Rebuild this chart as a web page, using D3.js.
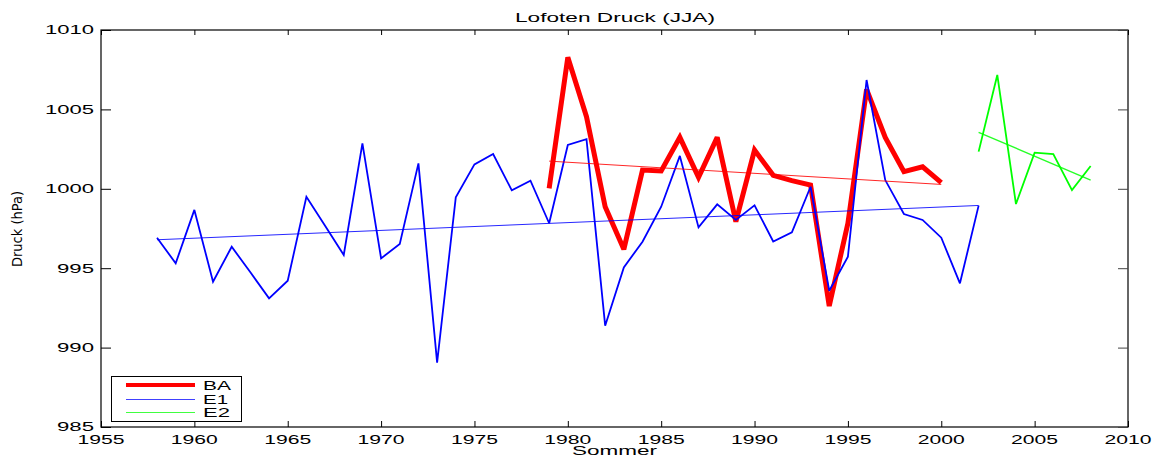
<!DOCTYPE html>
<html>
<head>
<meta charset="utf-8">
<script src="https://cdn.jsdelivr.net/npm/d3@7"></script>
<style>
  html, body { margin: 0; padding: 0; background: #fff; }
  svg { display: block; }
  text { font-family: "Liberation Sans", Arial, Helvetica, sans-serif; fill: #000; }
</style>
</head>
<body>
<svg id="chart" width="1161" height="457"></svg>
<script>
// Summer (JJA) mean sea-level pressure at Lofoten, hPa
const yearsBA = d3.range(1979, 2001);
const valuesBA = [1000.03, 1008.28, 1004.54, 998.87, 996.19, 1001.18, 1001.12, 1003.24, 1000.72, 1003.24,
                  997.93, 1002.44, 1000.85, 1000.51, 1000.24, 992.62, 997.83, 1006.26, 1003.24, 1001.08,
                  1001.39, 1000.39];

const yearsE1 = d3.range(1958, 2003);
const valuesE1 = [996.92, 995.31, 998.67, 994.15, 996.35, 994.74, 993.10, 994.21, 999.50, 997.67,
                  995.83, 1002.86, 995.62, 996.52, 1001.60, 989.05, 999.46, 1001.54, 1002.19, 999.90,
                  1000.51, 997.83, 1002.76, 1003.12, 991.38, 995.05, 996.67, 998.87, 1002.07, 997.57,
                  999.02, 998.04, 998.96, 996.68, 997.26, 1000.13, 993.58, 995.73, 1006.85, 1000.55,
                  998.41, 998.04, 996.92, 994.05, 998.94];

const yearsE2 = d3.range(2002, 2009);
const valuesE2 = [1002.34, 1007.17, 999.04, 1002.28, 1002.19, 999.92, 1001.44];

const xTicks = [1955, 1960, 1965, 1970, 1975, 1980, 1985, 1990, 1995, 2000, 2005, 2010];
const yTicks = [985, 990, 995, 1000, 1005, 1010];

const titleText = "Lofoten Druck (JJA)";
const xLabel = "Sommer";
const yLabel = "Druck (hPa)";
const legendNames = ["BA", "E1", "E2"];

const series = [
  { name: "BA", years: yearsBA, values: valuesBA, color: "#ff0000", width: 5 },
  { name: "E1", years: yearsE1, values: valuesE1, color: "#0000ff", width: 1.8 },
  { name: "E2", years: yearsE2, values: valuesE2, color: "#00ff00", width: 1.8 }
];

const svg = d3.select("#chart");
const plotL = 101, plotR = 1128, plotT = 30, plotB = 427;

const x = d3.scaleLinear().domain([1955, 2010]).range([plotL, plotR]);
const y = d3.scaleLinear().domain([985, 1010]).range([plotB, plotT]);

// stretched text helper (wide tick/label glyphs)
function wideText(sel, str, len) {
  sel.text(str).attr("textLength", len).attr("lengthAdjust", "spacingAndGlyphs");
}

// least-squares linear fit
function linFit(xs, ys) {
  const mx = d3.mean(xs), my = d3.mean(ys);
  let sxy = 0, sxx = 0;
  xs.forEach((v, i) => { sxy += (v - mx) * (ys[i] - my); sxx += (v - mx) * (v - mx); });
  const b = sxy / sxx;
  return t => my + b * (t - mx);
}

const line = d3.line().x(d => x(d[0])).y(d => y(d[1]));

// data lines
const plot = svg.append("g");
series.forEach(s => {
  const pts = s.years.map((yr, i) => [yr, s.values[i]]);
  plot.append("path")
    .attr("d", line(pts))
    .attr("fill", "none")
    .attr("stroke", s.color)
    .attr("stroke-width", s.width)
    .attr("stroke-linejoin", "miter")
    .attr("stroke-miterlimit", 3);
});

// linear trends
series.forEach(s => {
  const f = linFit(s.years, s.values);
  const x0 = s.years[0], x1 = s.years[s.years.length - 1];
  plot.append("path")
    .attr("d", line([[x0, f(x0)], [x1, f(x1)]]))
    .attr("fill", "none")
    .attr("stroke", s.color)
    .attr("stroke-width", s.name === "E2" ? 1.4 : 1)
    .attr("stroke-opacity", 0.85);
});

// axes box
const axes = svg.append("g");
axes.append("rect")
  .attr("x", plotL).attr("y", plotT)
  .attr("width", plotR - plotL).attr("height", plotB - plotT)
  .attr("fill", "none").attr("stroke", "#000").attr("stroke-width", 1.2);

// bottom/top axes (ticks inward)
const xAxisB = d3.axisBottom(x).tickValues(xTicks).tickSize(-6).tickFormat("");
axes.append("g").attr("transform", `translate(0,${plotB})`).call(xAxisB)
  .call(g => g.select(".domain").remove())
  .call(g => g.selectAll(".tick line").attr("stroke", "#000"));
const xAxisT = d3.axisTop(x).tickValues(xTicks).tickSize(-5).tickFormat("");
axes.append("g").attr("transform", `translate(0,${plotT})`).call(xAxisT)
  .call(g => g.select(".domain").remove())
  .call(g => g.selectAll(".tick line").attr("stroke", "#000"));

// left/right axes (ticks inward)
const yAxisL = d3.axisLeft(y).tickValues(yTicks).tickSize(-10).tickFormat("");
axes.append("g").attr("transform", `translate(${plotL},0)`).call(yAxisL)
  .call(g => g.select(".domain").remove())
  .call(g => g.selectAll(".tick line").attr("stroke", "#000"));
const yAxisR = d3.axisRight(y).tickValues(yTicks).tickSize(-10).tickFormat("");
axes.append("g").attr("transform", `translate(${plotR},0)`).call(yAxisR)
  .call(g => g.select(".domain").remove())
  .call(g => g.selectAll(".tick line").attr("stroke", "#444"));

// tick labels
xTicks.forEach(t => {
  svg.append("text")
    .attr("x", x(t) - 23.5).attr("y", 443.5)
    .attr("font-size", 12)
    .call(wideText, String(t), 47);
});
yTicks.forEach(t => {
  const s = String(t);
  const len = s.length === 4 ? 49 : 37;
  svg.append("text")
    .attr("x", 94 - len).attr("y", y(t) + 4.3)
    .attr("font-size", 12)
    .call(wideText, s, len);
});

// title and axis labels
svg.append("text")
  .attr("x", 515).attr("y", 22)
  .attr("font-size", 12.5)
  .call(wideText, titleText, 200);

svg.append("text")
  .attr("x", 572).attr("y", 455)
  .attr("font-size", 12.5)
  .call(wideText, xLabel, 85);

svg.append("text")
  .attr("transform", "translate(22,229) rotate(-90)")
  .attr("text-anchor", "middle")
  .attr("font-size", 14.5)
  .style("font-family", "'Liberation Sans Narrow', 'DejaVu Sans Condensed', sans-serif")
  .text(yLabel);

// legend
const lg = svg.append("g");
lg.append("rect")
  .attr("x", 111.5).attr("y", 376.5)
  .attr("width", 130).attr("height", 45)
  .attr("fill", "#fff").attr("stroke", "#000").attr("stroke-width", 1);
const legendY = [385, 399.5, 412.5];
const legendW = [28, 25, 27];
const legendStroke = [4, 1, 1];
series.forEach((s, i) => {
  lg.append("line")
    .attr("x1", 126).attr("x2", 195)
    .attr("y1", legendY[i]).attr("y2", legendY[i])
    .attr("stroke", s.color).attr("stroke-width", legendStroke[i])
    .attr("stroke-opacity", i === 0 ? 1 : 0.75);
  lg.append("text")
    .attr("x", 203).attr("y", legendY[i] + 4.5)
    .attr("font-size", 12.5)
    .call(wideText, legendNames[i], legendW[i]);
});
</script>
</body>
</html>
